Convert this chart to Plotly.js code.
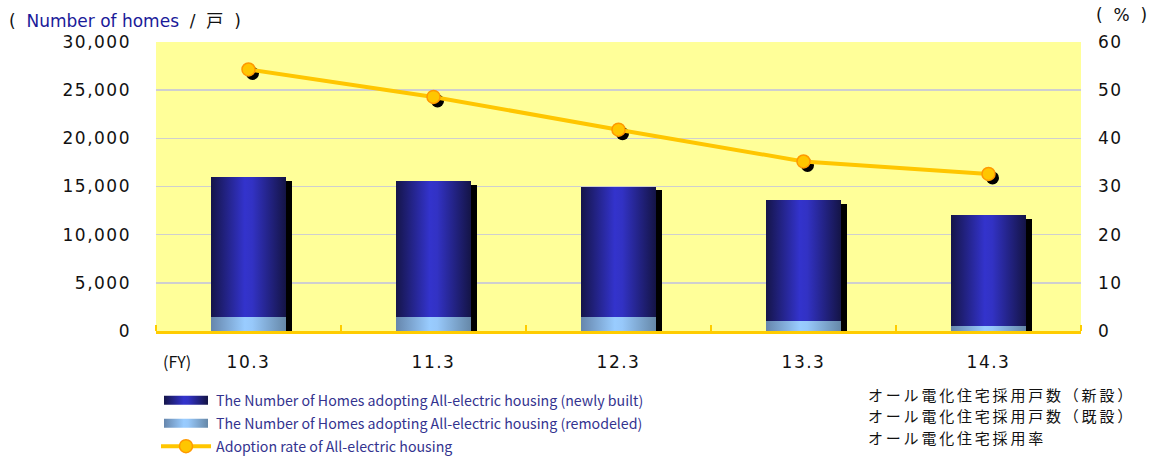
<!DOCTYPE html>
<html>
<head>
<meta charset="utf-8">
<script src="https://cdn.plot.ly/plotly-3.0.1.min.js"></script>
<style>
body{margin:0;padding:0;background:#fff;}
#chart{width:1151px;height:457px;}
.xtick text,.ytick text,.y2tick text{letter-spacing:1.5px;}
</style>
</head>
<body>
<div id="chart"></div>
<script>
// ---- data ----
var categories = ['10.3', '11.3', '12.3', '13.3', '14.3'];
var newlyBuilt = [14500, 14100, 13550, 12600, 11450];
var remodeled = [1500, 1500, 1450, 1000, 550];
var adoptionRate = [54.3, 48.6, 41.8, 35.2, 32.6];

var nameNew = 'The Number of Homes adopting All-electric housing (newly built)';
var nameRem = 'The Number of Homes adopting All-electric housing (remodeled)';
var nameRate = 'Adoption rate of All-electric housing';
var jpLabels = ['オール電化住宅採用戸数（新設）', 'オール電化住宅採用戸数（既設）', 'オール電化住宅採用率'];

// ---- geometry (pixel layout) ----
var W = 1151, H = 457;
var mL = 156, mR = 70, mT = 42, mB = 125.5;
var plotW = W - mL - mR, plotH = H - mT - mB, nCat = categories.length;
var pxX = nCat / plotW;          // category units per px
var pxY1 = 30000 / plotH;        // left-axis units per px
var pxY2 = 60 / plotH;           // right-axis units per px
var barW = 0.405;
function px2paperX(px) { return (px - mL) / plotW; }
function px2paperY(py) { return (H - mB - py) / plotH; }

var idx = categories.map(function (c, i) { return i; });
var totals = newlyBuilt.map(function (v, i) { return v + remodeled[i]; });
var boundaries = [-0.5].concat(idx.map(function (i) { return i + 0.5; }));

var baseFont = 'DejaVu Sans, Arial, sans-serif';
var NB = '\u00a0';

var traces = [
  { // bar drop shadow
    type: 'bar', x: idx.map(function (i) { return i + 6.5 * pxX; }), y: totals,
    base: -4 * pxY1, width: barW, marker: { color: '#000000' },
    showlegend: false, hoverinfo: 'skip', cliponaxis: false, name: 'shadow'
  },
  {
    type: 'bar', x: idx, y: remodeled, width: barW, name: nameRem,
    marker: { color: '#99CCFF' }, legendgroup: 'b', legendrank: 2
  },
  {
    type: 'bar', x: idx, y: newlyBuilt, base: remodeled, width: barW, name: nameNew,
    marker: { color: '#3333CC' }, legendgroup: 'a', legendrank: 1
  },
  { // marker drop shadow
    type: 'scatter', mode: 'markers', yaxis: 'y2',
    x: idx.map(function (i) { return i + 4 * pxX; }),
    y: adoptionRate.map(function (v) { return v - 4 * pxY2; }),
    marker: { color: '#000000', size: 13 }, showlegend: false, hoverinfo: 'skip', name: 'mshadow'
  },
  {
    type: 'scatter', mode: 'lines+markers', yaxis: 'y2', x: idx, y: adoptionRate, name: nameRate,
    line: { color: '#FFC600', width: 4 },
    marker: { color: '#FFC600', size: 13, line: { color: '#FF9900', width: 1.5 } },
    legendgroup: 'c', legendrank: 3
  }
];

function note(px, py, text, font, anchor) {
  return {
    xref: 'paper', yref: 'paper', x: px2paperX(px), y: px2paperY(py),
    xanchor: anchor || 'left', yanchor: 'middle', showarrow: false, align: 'left',
    font: font, text: text
  };
}
var annotations = [
  note(7, 21, '(' + NB + NB + '<span style="color:#1a1a99">Number of homes</span>' + NB + NB + '/' + NB + NB + '戸' + NB + NB + ')',
    { family: baseFont + ', Noto Sans CJK JP', size: 17, color: '#111111' }),
  note(1094, 15, '(' + NB + NB + '%' + NB + NB + ')', { family: baseFont, size: 17, color: '#111111' }),
  note(161, 362, '(FY)', { family: 'Noto Sans CJK JP, ' + baseFont, size: 16, color: '#111111' })
];
var jpY = [395, 416.5, 438];
jpLabels.forEach(function (t, i) {
  annotations.push(note(866, jpY[i], t, { family: 'Noto Sans CJK JP, sans-serif', size: 15, color: '#111111' }));
});

var layout = {
  width: W, height: H,
  margin: { l: mL, r: mR, t: mT, b: mB, pad: 0, autoexpand: false },
  paper_bgcolor: '#ffffff', plot_bgcolor: '#FFFF99',
  barmode: 'overlay', bargap: 0,
  showlegend: true,
  legend: {
    xref: 'container', yref: 'container', x: 156 / W, y: 1 - 384.5 / H,
    xanchor: 'left', yanchor: 'top', orientation: 'v',
    traceorder: 'grouped', tracegroupgap: 1.5, itemwidth: 50,
    bgcolor: 'rgba(0,0,0,0)', borderwidth: 0,
    font: { family: 'Noto Sans CJK JP, sans-serif', size: 14.2, color: '#33338f' }
  },
  xaxis: {
    type: 'linear', range: [-0.5, nCat - 0.5], fixedrange: true,
    tickmode: 'array', tickvals: idx, ticktext: categories, ticks: '',
    ticklabelstandoff: 14,
    showgrid: false, zeroline: false,
    showline: true, linecolor: '#FFCC00', linewidth: 2.5,
    tickfont: { family: baseFont, size: 17, color: '#111111' },
    minor: { tickmode: 'array', tickvals: boundaries, ticks: 'inside', ticklen: 6, tickwidth: 2, tickcolor: '#FFCC00', showgrid: false }
  },
  yaxis: {
    range: [0, 30000], dtick: 5000, tickformat: ',d', fixedrange: true,
    showgrid: true, gridcolor: '#cfcfcf', gridwidth: 1.5, zeroline: false, showline: false,
    ticks: '', ticklabelstandoff: 24,
    tickfont: { family: baseFont, size: 17, color: '#111111' }
  },
  yaxis2: {
    overlaying: 'y', side: 'right', range: [0, 60], dtick: 10, fixedrange: true,
    showgrid: false, zeroline: false, showline: false, ticks: '', ticklabelstandoff: 16,
    tickfont: { family: baseFont, size: 17, color: '#111111' }
  },
  annotations: annotations
};

var gd = document.getElementById('chart');
Plotly.newPlot(gd, traces, layout, { staticPlot: true, displayModeBar: false }).then(function () {
  var NS = 'http://www.w3.org/2000/svg';
  var svg = gd.querySelector('svg.main-svg');
  var defs = svg.querySelector('defs') || svg.insertBefore(document.createElementNS(NS, 'defs'), svg.firstChild);
  function grad(id, stops) {
    var g = document.createElementNS(NS, 'linearGradient');
    g.setAttribute('id', id);
    g.setAttribute('x1', '0'); g.setAttribute('y1', '0'); g.setAttribute('x2', '1'); g.setAttribute('y2', '0');
    stops.forEach(function (s) {
      var st = document.createElementNS(NS, 'stop');
      st.setAttribute('offset', s[0]); st.setAttribute('stop-color', s[1]);
      g.appendChild(st);
    });
    defs.appendChild(g);
  }
  grad('gNew', [['0', '#15154a'], ['0.45', '#3333CC'], ['0.55', '#3232c4'], ['1', '#141446']]);
  grad('gRem', [['0', '#6686ac'], ['0.45', '#99CCFF'], ['0.55', '#97c8fa'], ['1', '#6688a8']]);
  var fills = {};
  fills[nameNew] = 'url(#gNew)';
  fills[nameRem] = 'url(#gRem)';
  gd.querySelectorAll('.barlayer .trace').forEach(function (tr) {
    var d = tr.__data__;
    var name = d && d[0] && d[0].trace && d[0].trace.name;
    if (fills[name]) {
      tr.querySelectorAll('path').forEach(function (p) { p.style.fill = fills[name]; });
    }
  });
  gd.querySelectorAll('.legend .traces').forEach(function (tr) {
    var t = tr.querySelector('.legendtext');
    var name = t ? t.textContent : '';
    if (fills[name]) {
      tr.querySelectorAll('.legendpoints path').forEach(function (p) {
        p.setAttribute('d', 'M22,4.5H-22V-4.5H22Z');
        p.style.fill = fills[name];
        p.style.stroke = 'none';
      });
    }
  });
  // widen the Japanese legend labels like the reference's wide-set glyphs
  gd.querySelectorAll('.annotation').forEach(function (a) {
    var t = a.querySelector('text');
    if (t && jpLabels.indexOf(t.textContent) >= 0) {
      t.style.letterSpacing = '2.8px';
    }
  });
});
</script>
</body>
</html>
